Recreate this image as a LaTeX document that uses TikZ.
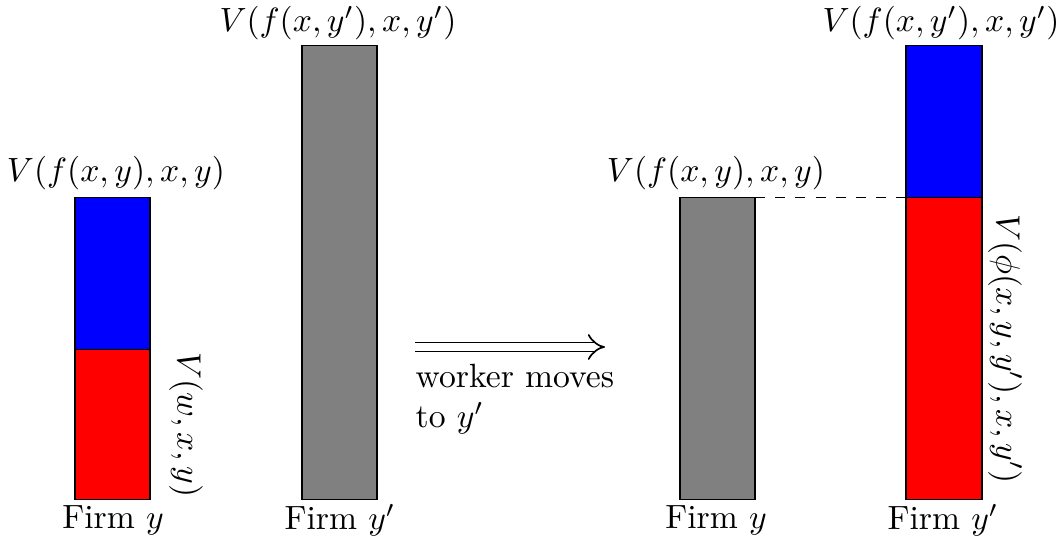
\documentclass[tikz,border=0pt]{standalone}
\usetikzlibrary{arrows.meta}
\begin{document}
\begin{tikzpicture}[x=0.01045cm,y=-0.01045cm,
  bar/.style={draw=black, line width=0.3pt},
  lbl/.style={inner sep=0pt}]
\useasboundingbox (0,0) rectangle (1058,548);
% Bar 1
\fill[red,bar] (75,350) rectangle (150,500);
\fill[blue,bar] (75,198) rectangle (150,350);
\node[lbl] (t1) at (116,173) {$V(f(x,y),x,y)$};
\node[lbl] (f1) at (113,520) {Firm $y$};
\node[lbl,rotate=-90] (r1) at (186,425) {$V(w,x,y)$};
% Bar 2
\fill[gray,bar] (302,46) rectangle (377,500);
\node[lbl] (t2) at (338,23) {$V(f(x,y'),x,y')$};
\node[lbl] (f2) at (340,520) {Firm $y'$};
% Arrow
\coordinate (a1) at (415,347);
\coordinate (a2) at (605,347);
\draw[double, line width=0.5pt, double distance=2.2pt, -{Implies}] (a1) -- (a2);
\node[lbl, anchor=north west, align=left] (w) at (415,363) {worker moves\\to $y'$};
% Bar 3
\fill[gray,bar] (680,198) rectangle (755,500);
\node[lbl] (t3) at (716,173) {$V(f(x,y),x,y)$};
\node[lbl] (f3) at (716,520) {Firm $y$};
% Bar 4
\fill[red,bar] (906,198) rectangle (982,500);
\fill[blue,bar] (906,46) rectangle (982,198);
\node[lbl] (t4) at (941,23) {$V(f(x,y'),x,y')$};
\node[lbl] (f4) at (943,520) {Firm $y'$};
\node[lbl,rotate=-90] (r4) at (1005,349) {$V(\phi(x,y,y'),x,y')$};
\draw[dashed, line width=0.3pt] (755,198) -- (906,198);
\end{tikzpicture}
\end{document}
